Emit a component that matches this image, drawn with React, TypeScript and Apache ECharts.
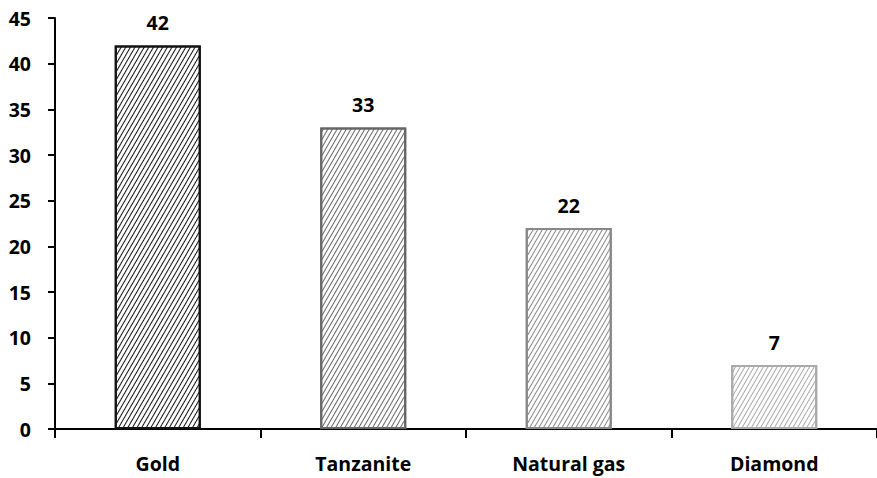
import React, { useEffect, useRef } from "react";
import * as echarts from "echarts";

const categories = ["Gold", "Tanzanite", "Natural gas", "Diamond"];
const values = [42, 33, 22, 7];
const barColors = ["#111111", "#666666", "#888888", "#aaaaaa"];

export default function App() {
  const ref = useRef<HTMLDivElement>(null);
  useEffect(() => {
    if (!ref.current) return;
    const chart = echarts.init(ref.current, null, { renderer: "svg" });
    const font = "'Open Sans', 'Noto Sans', sans-serif";
    chart.setOption({
      animation: false,
      grid: { left: 55, top: 18, bottom: 49, right: -3, containLabel: false },
      xAxis: {
        type: "category",
        data: categories,
        axisLine: { show: true, lineStyle: { color: "#000", width: 2 } },
        axisTick: { show: true, length: 9, lineStyle: { color: "#000", width: 2 } },
        axisLabel: { color: "#000", fontFamily: font, fontWeight: "bold", fontSize: 19.5, margin: 24 },
      },
      yAxis: {
        type: "value",
        min: 0,
        max: 45,
        interval: 5,
        splitLine: { show: false },
        axisLine: { show: true, lineStyle: { color: "#000", width: 2 } },
        axisTick: { show: true, length: 7, lineStyle: { color: "#000", width: 2 } },
        axisLabel: { color: "#000", fontFamily: font, fontWeight: "bold", fontSize: 19.5, margin: 24 },
      },
      series: [
        {
          type: "bar",
          barWidth: 86,
          data: values.map((v, i) => ({
            value: v,
            itemStyle: {
              color: "#fff",
              borderColor: barColors[i],
              borderWidth: 2,
              decal: {
                symbol: "rect",
                symbolSize: 1,
                color: barColors[i],
                backgroundColor: "#fff",
                dashArrayX: [1, 0],
                dashArrayY: [1, 2.8],
                rotation: -Math.PI / 3,
              },
            },
          })),
          label: {
            show: true,
            position: "top",
            distance: 13,
            color: "#000",
            fontFamily: font,
            fontWeight: "bold",
            fontSize: 19.5,
          },
        },
      ],
    });
    return () => chart.dispose();
  }, []);
  return <div ref={ref} style={{ width: 877, height: 478, position: "absolute", left: 0, top: 0 }} />;
}
